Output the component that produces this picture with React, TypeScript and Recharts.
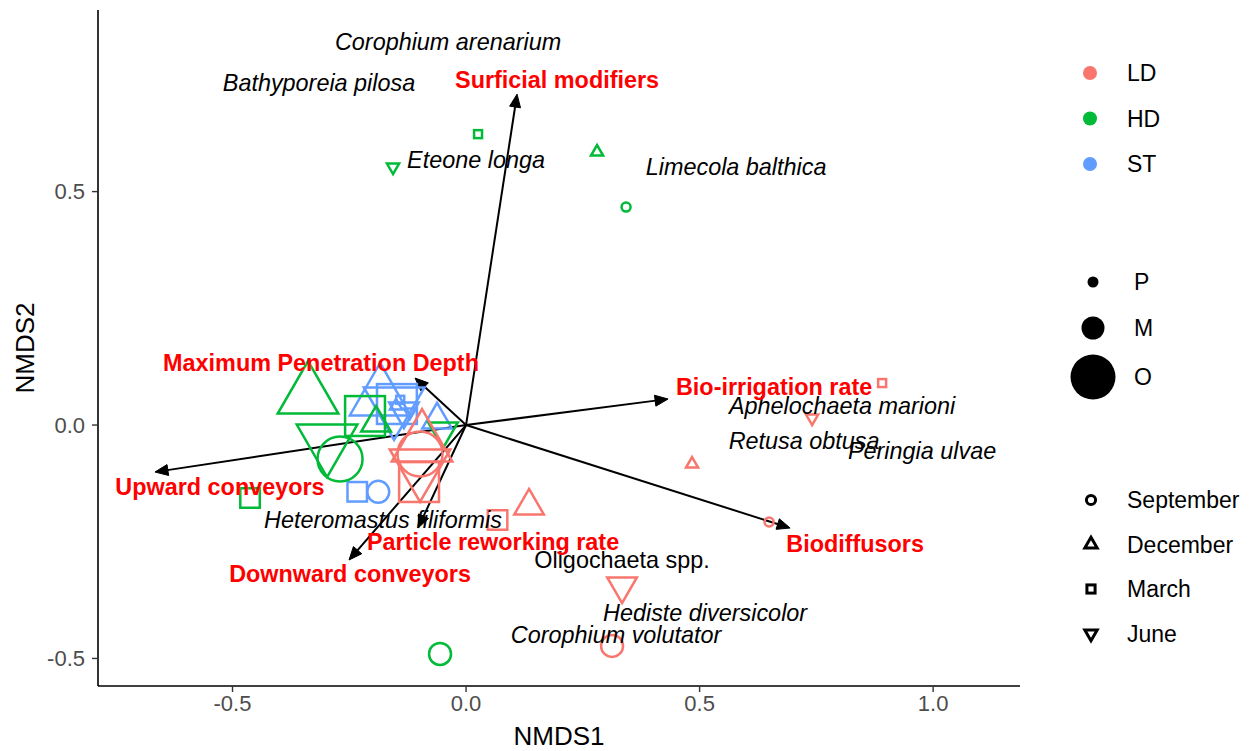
import React from 'react';
import { ScatterChart, Scatter, XAxis, YAxis, ReferenceLine } from 'recharts';

// ---------- data ----------
const siteColors: Record<string, string> = { LD: '#F8766D', HD: '#00BA38', ST: '#619CFF' };
const sites = ['LD', 'HD', 'ST'];
const zones = ['P', 'M', 'O'];
const months = ['September', 'December', 'March', 'June'];

const ldPoints = [
  { x: -0.0985, y: -0.0621, zone: 'O', month: 'September' },
  { x: -0.1006, y: -0.1221, zone: 'O', month: 'March' },
  { x: -0.0942, y: -0.0407, zone: 'O', month: 'December' },
  { x: -0.0985, y: -0.0899, zone: 'O', month: 'June' },
  { x: 0.1349, y: -0.1734, zone: 'M', month: 'December' },
  { x: 0.0675, y: -0.2034, zone: 'M', month: 'March' },
  { x: 0.334, y: -0.3448, zone: 'M', month: 'June' },
  { x: 0.3126, y: -0.4732, zone: 'M', month: 'September' },
  { x: 0.8908, y: 0.0899, zone: 'P', month: 'March' },
  { x: 0.7409, y: 0.015, zone: 'P', month: 'June' },
  { x: 0.4839, y: -0.0835, zone: 'P', month: 'December' },
  { x: 0.6488, y: -0.2077, zone: 'P', month: 'September' },
];

const hdPoints = [
  { x: 0.0257, y: 0.6231, zone: 'P', month: 'March' },
  { x: -0.1563, y: 0.5525, zone: 'P', month: 'June' },
  { x: 0.2805, y: 0.5846, zone: 'P', month: 'December' },
  { x: 0.3426, y: 0.4668, zone: 'P', month: 'September' },
  { x: -0.3383, y: 0.0621, zone: 'O', month: 'December' },
  { x: -0.2163, y: 0.0193, zone: 'O', month: 'March' },
  { x: -0.2976, y: -0.0364, zone: 'O', month: 'June' },
  { x: -0.2698, y: -0.0728, zone: 'O', month: 'September' },
  { x: -0.1927, y: 0.0043, zone: 'M', month: 'December' },
  { x: -0.0493, y: -0.0128, zone: 'M', month: 'June' },
  { x: -0.4625, y: -0.1563, zone: 'M', month: 'March' },
  { x: -0.0557, y: -0.4904, zone: 'M', month: 'September' },
];

const stPoints = [
  { x: -0.184, y: 0.058, zone: 'O', month: 'December' },
  { x: -0.148, y: 0.045, zone: 'O', month: 'March' },
  { x: -0.154, y: 0.043, zone: 'O', month: 'June' },
  { x: -0.062, y: 0.011, zone: 'M', month: 'December' },
  { x: -0.133, y: 0.03, zone: 'M', month: 'June' },
  { x: -0.15, y: 0.041, zone: 'P', month: 'December' },
  { x: -0.141, y: 0.054, zone: 'P', month: 'March' },
  { x: -0.12, y: 0.028, zone: 'P', month: 'June' },
  { x: -0.233, y: -0.143, zone: 'M', month: 'March' },
  { x: -0.188, y: -0.143, zone: 'M', month: 'September' },
];

const traitVectors = [
  { name: 'Surficial modifiers', x: 0.1092, y: 0.7088 },
  { name: 'Bio-irrigation rate', x: 0.4325, y: 0.0557 },
  { name: 'Biodiffusors', x: 0.6938, y: -0.2206 },
  { name: 'Particle reworking rate', x: -0.1028, y: -0.2206 },
  { name: 'Downward conveyors', x: -0.2505, y: -0.2891 },
  { name: 'Upward conveyors', x: -0.666, y: -0.1006 },
  { name: 'Maximum Penetration Depth', x: -0.1092, y: 0.1006 },
];

const traitLabels = [
  { name: 'Surficial modifiers', x: 0.1949, y: 0.7409 },
  { name: 'Bio-irrigation rate', x: 0.6595, y: 0.0814 },
  { name: 'Biodiffusors', x: 0.833, y: -0.2548 },
  { name: 'Particle reworking rate', x: 0.0578, y: -0.2505 },
  { name: 'Downward conveyors', x: -0.2484, y: -0.319 },
  { name: 'Upward conveyors', x: -0.5268, y: -0.1328 },
  { name: 'Maximum Penetration Depth', x: -0.3105, y: 0.1328 },
];

const speciesLabels = [
  { name: 'Corophium arenarium', x: -0.0385, y: 0.8223, italic: true },
  { name: 'Bathyporeia pilosa', x: -0.3148, y: 0.7345, italic: true },
  { name: 'Eteone longa', x: 0.0214, y: 0.5696, italic: true },
  { name: 'Limecola balthica', x: 0.5782, y: 0.5546, italic: true },
  { name: 'Aphelochaeta marioni', x: 0.8051, y: 0.0407, italic: true },
  { name: 'Retusa obtusa', x: 0.7238, y: -0.0343, italic: true },
  { name: 'Peringia ulvae', x: 0.9764, y: -0.0557, italic: true },
  { name: 'Heteromastus filiformis', x: -0.1777, y: -0.2034, italic: true },
  { name: 'Oligochaeta spp.', x: 0.334, y: -0.2891, italic: false },
  { name: 'Hediste diversicolor', x: 0.5118, y: -0.4026, italic: true },
  { name: 'Corophium volutator', x: 0.3212, y: -0.4497, italic: true },
];

const xTicks = [-0.5, 0, 0.5, 1.0];
const yTicks = [-0.5, 0, 0.5];
const xDomain = [-0.788, 1.186];
const yDomain = [-0.559, 0.889];

// ---------- styling ----------
const FONT = '"Liberation Sans", Arial, Helvetica, sans-serif';
const zoneRadius: Record<string, number> = { P: 4.5, M: 11, O: 22.5 };
const STROKE = 2.5;
const ANNOT_SIZE = 23.4;
const LEGEND_SIZE = 23;
const TICK_SIZE = 22;

function Glyph({ cx, cy, s, month, color, sw = STROKE, fill = 'none' }: any) {
  if (month === 'September') {
    return <circle cx={cx} cy={cy} r={s} fill={fill} stroke={color} strokeWidth={sw} />;
  }
  if (month === 'March') {
    const h = 0.886 * s;
    return <rect x={cx - h} y={cy - h} width={2 * h} height={2 * h} fill={fill} stroke={color} strokeWidth={sw} />;
  }
  const r = 1.555 * s;
  const xc = 1.347 * s;
  const yc = 0.778 * s;
  if (month === 'December') {
    return (
      <polygon
        points={`${cx},${cy - r} ${cx + xc},${cy + yc} ${cx - xc},${cy + yc}`}
        fill={fill}
        stroke={color}
        strokeWidth={sw}
        strokeLinejoin="miter"
      />
    );
  }
  return (
    <polygon
      points={`${cx},${cy + r} ${cx + xc},${cy - yc} ${cx - xc},${cy - yc}`}
      fill={fill}
      stroke={color}
      strokeWidth={sw}
      strokeLinejoin="miter"
    />
  );
}

const markerShape = (color: string) => (props: any) => {
  const { cx, cy, payload } = props;
  return <Glyph cx={cx} cy={cy} s={zoneRadius[payload.zone]} month={payload.month} color={color} />;
};

const traitTextShape = (props: any) => {
  const { cx, cy, payload } = props;
  return (
    <text x={cx} y={cy} dy="0.36em" textAnchor="middle" fontFamily={FONT} fontSize={ANNOT_SIZE} fontWeight="bold" fill="#FF0000">
      {payload.name}
    </text>
  );
};

const speciesTextShape = (props: any) => {
  const { cx, cy, payload } = props;
  return (
    <text
      x={cx}
      y={cy}
      dy="0.36em"
      textAnchor="middle"
      fontFamily={FONT}
      fontSize={ANNOT_SIZE}
      fontStyle={payload.italic ? 'italic' : 'normal'}
      fill="#000"
    >
      {payload.name}
    </text>
  );
};

const ArrowShape = (props: any) => {
  const { x1, y1, x2, y2 } = props;
  const ang = Math.atan2(y2 - y1, x2 - x1);
  const L = 13;
  const W = 5.5;
  const bx = x2 - L * Math.cos(ang);
  const by = y2 - L * Math.sin(ang);
  const px = -Math.sin(ang) * W;
  const py = Math.cos(ang) * W;
  return (
    <g>
      <line x1={x1} y1={y1} x2={bx + 0.5 * Math.cos(ang)} y2={by + 0.5 * Math.sin(ang)} stroke="#000" strokeWidth={2} />
      <polygon points={`${x2},${y2} ${bx + px},${by + py} ${bx - px},${by - py}`} fill="#000" stroke="#000" strokeWidth={1} />
    </g>
  );
};

const fmt = (v: number) => v.toFixed(1);

function LegendPanel() {
  const colorRows = sites.map((s, i) => ({ s, y: 73 + i * 45.5 }));
  const sizeRows = zones.map((z, i) => ({ z, y: [282, 328, 377][i] }));
  const shapeRows = months.map((m, i) => ({ m, y: 500 + i * 44.5 }));
  return (
    <svg width={1252} height={751} style={{ position: 'absolute', left: 0, top: 0, pointerEvents: 'none' }}>
      {colorRows.map((r) => (
        <g key={r.s}>
          <circle cx={1090} cy={r.y} r={7} fill={siteColors[r.s]} />
          <text x={1127} y={r.y} dy="0.36em" fontFamily={FONT} fontSize={LEGEND_SIZE} fill="#000">
            {r.s}
          </text>
        </g>
      ))}
      {sizeRows.map((r) => (
        <g key={r.z}>
          <circle cx={1093} cy={r.y} r={[5.5, 11.5, 22.5][zones.indexOf(r.z)]} fill="#000" />
          <text x={1134} y={r.y} dy="0.36em" fontFamily={FONT} fontSize={LEGEND_SIZE} fill="#000">
            {r.z}
          </text>
        </g>
      ))}
      {shapeRows.map((r) => (
        <g key={r.m}>
          <Glyph cx={1091} cy={r.y} s={4.6} month={r.m} color="#000" sw={3} />
          <text x={1127} y={r.y} dy="0.36em" fontFamily={FONT} fontSize={LEGEND_SIZE} fill="#000">
            {r.m}
          </text>
        </g>
      ))}
    </svg>
  );
}

export default function App() {
  return (
    <div style={{ position: 'absolute', left: 0, top: 0, width: 1252, height: 751, background: '#fff', fontFamily: FONT }}>
      <ScatterChart width={1252} height={751} margin={{ top: 10, right: 232, bottom: 0, left: 0 }}>
        <XAxis
          type="number"
          dataKey="x"
          domain={xDomain}
          ticks={xTicks}
          tickFormatter={fmt}
          allowDataOverflow
          height={65}
          axisLine={{ stroke: '#000', strokeWidth: 1.6 }}
          tickLine={{ stroke: '#333', strokeWidth: 1.4 }}
          tickSize={6}
          tickMargin={3}
          tick={{ fill: '#4D4D4D', fontSize: TICK_SIZE, fontFamily: FONT }}
          label={{ value: 'NMDS1', position: 'insideBottom', offset: 6, fontSize: 26, fill: '#000', fontFamily: FONT }}
        />
        <YAxis
          type="number"
          dataKey="y"
          domain={yDomain}
          ticks={yTicks}
          tickFormatter={fmt}
          allowDataOverflow
          width={98}
          axisLine={{ stroke: '#000', strokeWidth: 1.6 }}
          tickLine={{ stroke: '#333', strokeWidth: 1.4 }}
          tickSize={6}
          tickMargin={7}
          tick={{ fill: '#4D4D4D', fontSize: TICK_SIZE, fontFamily: FONT }}
          label={{
            content: (p: any) => {
              const vb = p.viewBox || { x: 0, y: 10, width: 98, height: 676 };
              const cx = vb.x + 25;
              const cy = vb.y + vb.height / 2;
              return (
                <text x={cx} y={cy} dy="0.36em" transform={`rotate(-90 ${cx} ${cy})`} textAnchor="middle" fontSize={26} fill="#000" fontFamily={FONT}>
                  NMDS2
                </text>
              );
            },
          }}
        />
        <Scatter name="ST" data={stPoints} shape={markerShape(siteColors.ST)} isAnimationActive={false} />
        <Scatter name="HD" data={hdPoints} shape={markerShape(siteColors.HD)} isAnimationActive={false} />
        <Scatter name="LD" data={ldPoints} shape={markerShape(siteColors.LD)} isAnimationActive={false} />
        {traitVectors.map((t) => (
          <ReferenceLine
            key={t.name}
            segment={[
              { x: 0, y: 0 },
              { x: t.x, y: t.y },
            ]}
            shape={ArrowShape}
            ifOverflow="visible"
          />
        ))}
        <Scatter name="species" data={speciesLabels} shape={speciesTextShape} isAnimationActive={false} />
        <Scatter name="traits" data={traitLabels} shape={traitTextShape} isAnimationActive={false} />
      </ScatterChart>
      <LegendPanel />
    </div>
  );
}
